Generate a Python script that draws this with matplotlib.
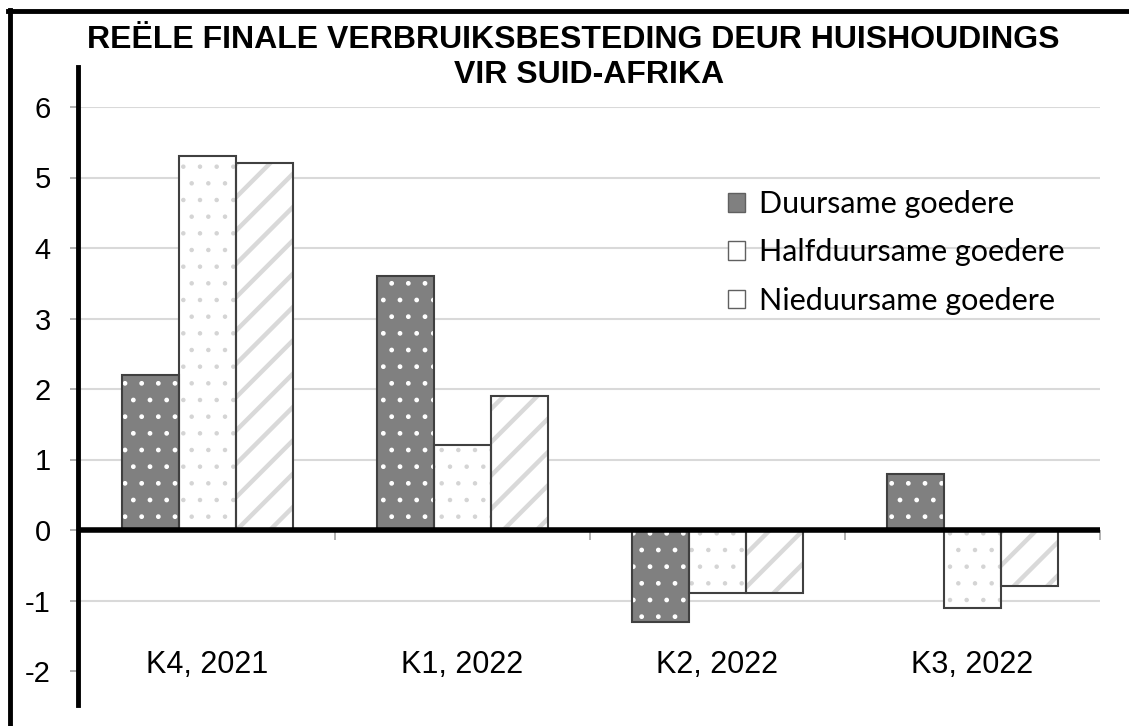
import matplotlib.pyplot as plt
from matplotlib.lines import Line2D
from matplotlib.patches import Patch
from matplotlib.transforms import blended_transform_factory
import numpy as np

# data
kwartale = ["K4, 2021", "K1, 2022", "K2, 2022", "K3, 2022"]
duursaam = [2.2, 3.6, -1.3, 0.8]
halfduursaam = [5.3, 1.2, -0.9, -1.1]
nieduursaam = [5.2, 1.9, -0.9, -0.8]
reekse = ["Duursame goedere", "Halfduursame goedere", "Nieduursame goedere"]
y_ticks = [-2, -1, 0, 1, 2, 3, 4, 5, 6]

EDGE = "#404040"
styles = [
    dict(face="#808080", hatch=".", hcol="#ffffff", hlw=1.0),
    dict(face="#ffffff", hatch=".", hcol="#d4d4d4", hlw=0.8),
    dict(face="#ffffff", hatch="/", hcol="#d9d9d9", hlw=3.2),
]

fig = plt.figure(figsize=(11.29, 7.26), dpi=100)
ax = fig.add_axes([80 / 1129, 1 - 671 / 726, 1020 / 1129, 564 / 726])

x = np.arange(len(kwartale))
w = 0.224
for i, (vals, st) in enumerate(zip([duursaam, halfduursaam, nieduursaam], styles)):
    pos = x + (i - 1) * w
    with plt.rc_context({"hatch.linewidth": st["hlw"]}):
        ax.bar(pos, vals, w, color=st["face"], edgecolor=st["hcol"],
               hatch=st["hatch"], linewidth=0, zorder=2)
    ax.bar(pos, vals, w, fill=False, edgecolor=EDGE, linewidth=1.5, zorder=3)

ax.set_xlim(-0.5, len(kwartale) - 0.5)
ax.set_ylim(-2, 6)
ax.set_yticks(y_ticks)
ax.set_yticklabels([str(v) for v in y_ticks], fontsize=21, family="Liberation Sans")
for v in y_ticks[1:]:
    ax.axhline(v, color="#d9d9d9", lw=1.5, zorder=0)
ax.axhline(0, color="black", lw=4, zorder=4)

# x axis at zero with boundary ticks
ax.spines["bottom"].set_position(("data", 0))
ax.set_xticks(np.arange(len(kwartale) + 1) - 0.5)
ax.set_xticklabels([])
ax.tick_params(axis="x", length=7, width=1.2, color="#a6a6a6")
ax.tick_params(axis="y", length=7, width=1.2, color="#a6a6a6", pad=14)
for s in ["top", "right", "left", "bottom"]:
    ax.spines[s].set_visible(False)

trans = blended_transform_factory(ax.transData, ax.transAxes)
for xi, lab in zip(x, kwartale):
    ax.text(xi, 0.011, lab, transform=trans, ha="center", va="center",
            fontsize=22, family="Liberation Sans")

# thick hand-drawn y axis line
ax.add_line(Line2D([-0.0015, -0.0015], [1.071, -0.06], transform=ax.transAxes,
                   color="black", lw=3.5, clip_on=False, zorder=5))

handles = [Patch(facecolor=st["face"], edgecolor="#606060", linewidth=1) for st in styles]
ax.legend(handles, reekse, loc="upper left", bbox_to_anchor=(0.6235, 0.874),
          frameon=False, prop={"family": "Lato", "size": 22},
          handlelength=0.55, handleheight=0.55, handletextpad=0.45,
          labelspacing=0.66, borderaxespad=0)

fig.text(573 / 1129, 1 - 40 / 726, "REËLE FINALE VERBRUIKSBESTEDING DEUR HUISHOUDINGS",
         ha="center", va="center", fontsize=23, fontweight="bold", family="Liberation Sans")
fig.text(589 / 1129, 1 - 75 / 726, "VIR SUID-AFRIKA",
         ha="center", va="center", fontsize=23, fontweight="bold", family="Liberation Sans")

# outer frame (left and top only)
fig.add_artist(Line2D([9.5 / 1129, 9.5 / 1129], [0, 1 - 9.5 / 726], color="black", lw=3.5))
fig.add_artist(Line2D([8 / 1129, 1], [1 - 10.5 / 726, 1 - 10.5 / 726], color="black", lw=3.5))

fig.savefig("out.png", dpi=100)
